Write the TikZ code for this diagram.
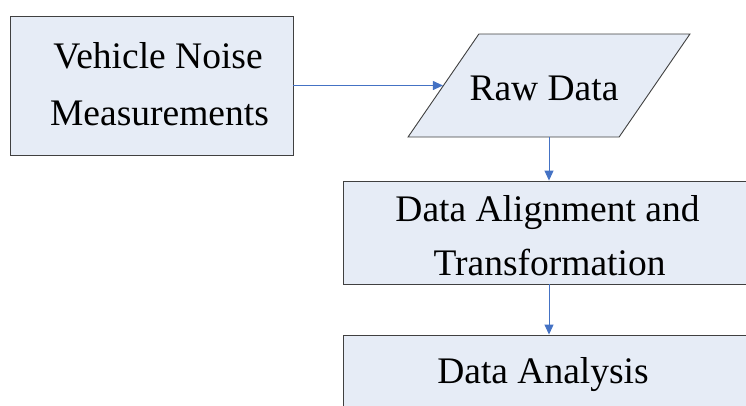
\documentclass[tikz,border=0pt]{standalone}
\usepackage{fontspec}
\setmainfont{Liberation Serif}
\usetikzlibrary{shapes.geometric,arrows.meta}
\definecolor{boxfill}{HTML}{E6ECF6}
\definecolor{boxline}{HTML}{404040}
\definecolor{flowblue}{HTML}{4472C4}
\begin{document}
\begin{tikzpicture}[x=1pt,y=-1pt,
  procbox/.style={draw=boxline, fill=boxfill, line width=0.9pt, rectangle, inner sep=0pt},
  iobox/.style={draw=boxline, fill=boxfill, line width=0.9pt, trapezium,
    trapezium left angle=63.2, trapezium right angle=116.8,
    trapezium stretches=true, inner sep=2pt},
  linetext/.style={inner sep=0pt, anchor=base, font=\fontsize{37.5}{45}\selectfont},
  flowline/.style={draw=flowblue, line width=1pt, -{Triangle[length=10pt,width=9pt]}}]
\useasboundingbox (0,0) rectangle (746,405);
\clip (0,0) rectangle (746,405);

% shapes
\node[procbox, minimum width=283pt, minimum height=139pt] (veh) at (151.5,85.5) {};
\node[iobox, minimum width=282pt, minimum height=103pt] (raw) at (549,85.5) {};
\node[procbox, minimum width=412pt, minimum height=103pt] (align) at (549,232.5) {};
\node[procbox, minimum width=412pt, minimum height=110pt] (anal) at (549,390) {};

% labels
\node[linetext] (vehA) at (158,68) {Vehicle Noise};
\node[linetext] (vehB) at (159.5,125) {Measurements};
\node[linetext] (rawT) at (544,100) {Raw Data};
\node[linetext] (alignA) at (547.5,221) {Data Alignment and};
\node[linetext] (alignB) at (549.5,275) {Transformation};
\node[linetext] (analT) at (543,383) {Data Analysis};

% connectors
\draw[flowline] (veh) -- (raw);
\draw[flowline] (raw) -- (align);
\draw[flowline] (align) -- (anal);
\end{tikzpicture}
\end{document}
